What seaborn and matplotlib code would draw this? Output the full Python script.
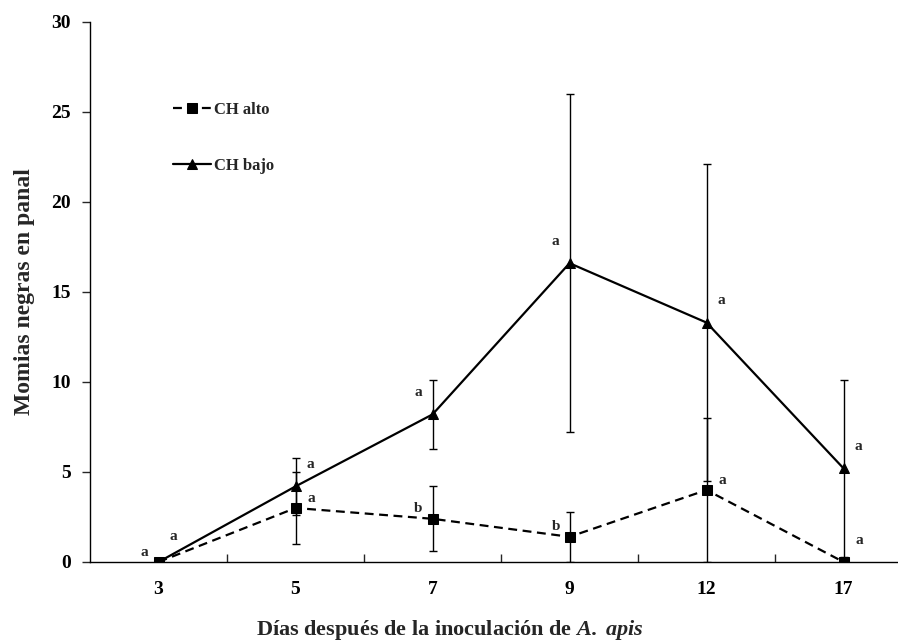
import matplotlib
matplotlib.use("Agg")
import matplotlib.pyplot as plt
import pandas as pd
import seaborn as sns

dias = ["3", "5", "7", "9", "12", "17"]
alto = [0.0, 3.0, 2.4, 1.4, 4.0, 0.0]
alto_err = [0.0, 2.0, 1.8, 1.4, 4.0, 0.0]
bajo = [0.0, 4.2, 8.2, 16.6, 13.3, 5.2]
bajo_err = [0.0, 1.6, 1.9, 9.4, 8.8, 4.9]
letras_alto = ["a", "a", "b", "b", "a", "a"]
letras_bajo = ["a", "a", "a", "a", "a", "a"]

sns.set_theme(style="ticks")
plt.rcParams["font.family"] = ["Liberation Serif", "DejaVu Serif"]
plt.rcParams["font.weight"] = "bold"
plt.rcParams["mathtext.fontset"] = "custom"
plt.rcParams["mathtext.bfit"] = "Liberation Serif:italic:bold"

pos = list(range(len(dias)))
df = pd.DataFrame({"pos": pos + pos,
                   "valor": alto + bajo,
                   "serie": ["CH alto"] * len(dias) + ["CH bajo"] * len(dias)})

fig = plt.figure(figsize=(8.98, 6.44), dpi=100)
ax = fig.add_axes([90 / 898, 82 / 644, 807 / 898, 540 / 644])

# error bars first, thin black
ax.errorbar(pos, bajo, yerr=bajo_err, fmt="none", ecolor="black",
            elinewidth=1.0, capsize=3, capthick=1.0, zorder=1)
ax.errorbar(pos, alto, yerr=alto_err, fmt="none", ecolor="black",
            elinewidth=1.0, capsize=3, capthick=1.0, zorder=1)

sns.lineplot(data=df[df.serie == "CH alto"], x="pos", y="valor", ax=ax,
             color="black", linewidth=1.6, marker="s", markersize=7,
             markeredgecolor="black", label="CH alto", zorder=3)
ax.lines[-1].set_dashes((4, 2.5))
sns.lineplot(data=df[df.serie == "CH bajo"], x="pos", y="valor", ax=ax,
             color="black", linewidth=1.6, marker="^", markersize=7,
             markeredgecolor="black", label="CH bajo", zorder=3)

# significance letters
for i in pos:
    dx_a = -14 if i in (0, 2, 3) else 16
    dy_a = 10 if i != 5 else 22
    ax.annotate(letras_alto[i], (i, alto[i]), xytext=(dx_a, dy_a),
                textcoords="offset pixels", ha="center", va="center",
                fontsize=11, fontweight="bold")
    dx_b = -14 if i in (2, 3) else 15
    dy_b = 22 if i != 0 else 26
    ax.annotate(letras_bajo[i], (i, bajo[i]), xytext=(dx_b, dy_b),
                textcoords="offset pixels", ha="center", va="center",
                fontsize=11, fontweight="bold")

ax.set_ylim(0, 30)
ax.set_yticks(range(0, 31, 5))
ax.set_xlim(-0.5, 5.39)
ax.set_xticks([p + 0.5 for p in pos[:-1]])
ax.set_xticklabels([])
ax.set_xticks(pos, minor=True)
ax.set_xticklabels(dias, minor=True)
ax.tick_params(axis="x", which="minor", length=0, pad=14)
ax.tick_params(axis="x", which="major", length=6, width=1, direction="in")
ax.tick_params(axis="y", length=6, width=1, direction="out", pad=8)
for lab in ax.get_xticklabels(minor=True) + ax.get_yticklabels():
    lab.set_fontsize(14)
    lab.set_fontweight("bold")
    lab.set_color("black")

sns.despine(ax=ax)
for s in ("left", "bottom"):
    ax.spines[s].set_color("black")
    ax.spines[s].set_linewidth(1.0)

ax.set_xlabel("")
ax.set_ylabel("")
fig.text(25 / 898, 1 - 292 / 644, "Momias negras en panal", rotation=90,
         ha="center", va="center", fontsize=17, fontweight="bold")
fig.text(450 / 898, 14 / 644,
         r"Días después de la inoculación de $\mathbfit{A.\,apis}$",
         ha="center", va="center", fontsize=16, fontweight="bold")

leg = ax.legend(loc="upper left", bbox_to_anchor=(0.092, 0.868), frameon=False,
                fontsize=12, handlelength=2.3, labelspacing=2.4,
                handletextpad=0.2, borderpad=0)
for t in leg.get_texts():
    t.set_fontweight("bold")

fig.savefig("out.png", dpi=100)
